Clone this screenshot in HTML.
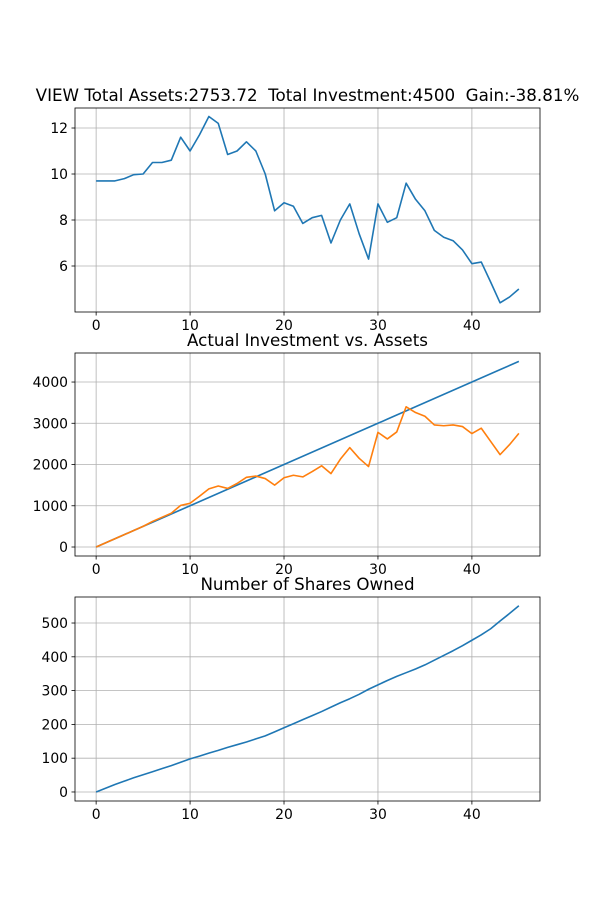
<!DOCTYPE html>
<html><head><meta charset="utf-8"><style>
body{margin:0;background:#fff;}
svg{display:block;font-family:"DejaVu Sans","Liberation Sans",sans-serif;}
text{white-space:pre;}
</style></head><body>
<svg id="fig" width="600" height="900"></svg>
<script>
const xs = Array.from({length:46},(_,i)=>i);
const priceValues = [9.7,9.7,9.7,9.8,9.97,10.0,10.5,10.5,10.6,11.6,11.0,11.7,12.5,12.2,10.85,11.0,11.4,11.0,10.0,8.4,8.75,8.6,7.85,8.1,8.2,7.0,8.0,8.7,7.4,6.3,8.7,7.9,8.1,9.6,8.9,8.4,7.55,7.25,7.1,6.7,6.1,6.17,5.3,4.4,4.65,5.0];
const investmentValues = xs.map(i=>i*100);
const assetValues = [0,100,200,300,400,500,620,720,820,1010,1060,1230,1410,1480,1420,1540,1690,1720,1660,1500,1680,1740,1700,1830,1970,1780,2130,2410,2150,1950,2780,2620,2790,3400,3260,3170,2960,2940,2960,2920,2750,2880,2560,2240,2480,2754];
const shareValues = [0,11,22,32,42,51,60,69,78,88,98,106,115,123,132,140,148,157,166,178,190,202,214,226,238,251,264,276,289,304,317,330,342,353,364,376,390,404,418,433,449,465,483,506,528,551];
const xTicks = [0,10,20,30,40];
const yTicks1 = [6,8,10,12];
const yTicks2 = [0,1000,2000,3000,4000];
const yTicks3 = [0,100,200,300,400,500];
const titles = ["VIEW Total Assets:2753.72  Total Investment:4500  Gain:-38.81%","Actual Investment vs. Assets","Number of Shares Owned"];

const NS="http://www.w3.org/2000/svg";
const svg=document.getElementById('fig');
function mk(tag,attrs,parent){const e=document.createElementNS(NS,tag);for(const k in attrs)e.setAttribute(k,attrs[k]);(parent||svg).appendChild(e);return e;}

function panel(idx,top,bottom,ymin,ymax,yTicks,series,title){
  const L=75,R=540;
  const sx=v=>L+(v+2.25)/49.5*(R-L);
  const sy=v=>bottom-(v-ymin)/(ymax-ymin)*(bottom-top);
  const g=mk('g',{});
  
  
  xTicks.forEach(t=>{
    const l=mk('line',{x1:sx(t),x2:sx(t),y1:top,y2:bottom,stroke:'#b0b0b0','stroke-width':0.8},g);
    
    mk('line',{x1:sx(t),x2:sx(t),y1:bottom,y2:bottom+3.5,stroke:'#000','stroke-width':0.8},g);
    const tx=mk('text',{x:sx(t),y:bottom+18,'font-size':13.9,'text-anchor':'middle',fill:'#000'},g);
    tx.textContent=t;
  });
  yTicks.forEach(t=>{
    const l=mk('line',{x1:L,x2:R,y1:sy(t),y2:sy(t),stroke:'#b0b0b0','stroke-width':0.8},g);
    
    mk('line',{x1:L-3.5,x2:L,y1:sy(t),y2:sy(t),stroke:'#000','stroke-width':0.8},g);
    const tx=mk('text',{x:L-7,y:sy(t)+5,'font-size':13.9,'text-anchor':'end',fill:'#000'},g);
    tx.textContent=t;
  });
  series.forEach(s=>{
    const p=mk('polyline',{points:s.v.map((v,i)=>sx(xs[i])+','+sy(v)).join(' '),fill:'none',stroke:s.c,'stroke-width':1.6,'stroke-linejoin':'round'},g);
    
  });
  const fr=mk('rect',{x:L,y:top,width:R-L,height:bottom-top,fill:'none',stroke:'#000','stroke-width':0.8},g);
  
  const tt=mk('text',{x:(L+R)/2,y:top-7,'font-size':16.7,'text-anchor':'middle',fill:'#000'},g);
  tt.textContent=title;
}
panel(0,108,312,4.0,12.87,yTicks1,[{v:priceValues,c:'#1f77b4',n:'price-line'}],titles[0]);
panel(1,353,556,-218,4704,yTicks2,[{v:investmentValues,c:'#1f77b4',n:'investment-line'},{v:assetValues,c:'#ff7f0e',n:'assets-line'}],titles[1]);
panel(2,597,801,-26.7,577,yTicks3,[{v:shareValues,c:'#1f77b4',n:'shares-line'}],titles[2]);
</script>
</body></html>
